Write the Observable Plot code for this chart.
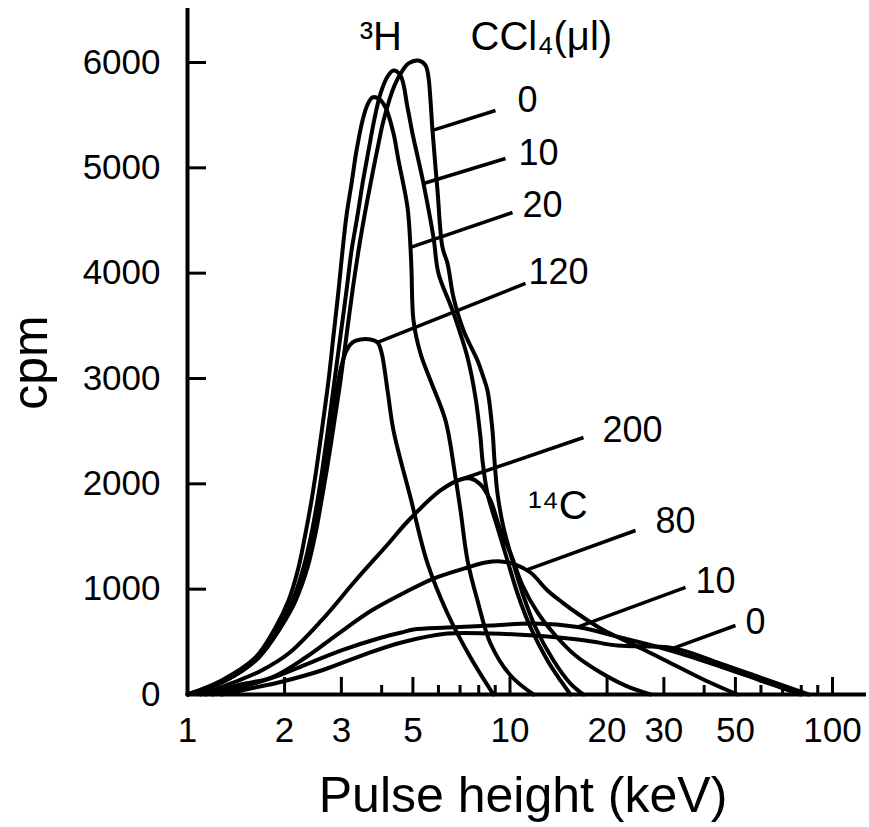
<!DOCTYPE html>
<html><head><meta charset="utf-8">
<script src="https://cdn.jsdelivr.net/npm/d3@7"></script>
<script src="https://cdn.jsdelivr.net/npm/@observablehq/plot@0.6"></script>
<style>html,body{margin:0;padding:0;background:#fff;}</style>
</head><body><div id="chart"></div>
<script>
// ---- Data: [Pulse height (keV), cpm] ----
const h3_0 = [[1,0],[1.3117,133],[1.6601,351],[1.9431,636],[2.1624,892],[2.3557,1206],[2.4942,1529],[2.6032,1842],[2.7173,2174],[2.8566,2601],[2.9819,2981],[3.112,3408],[3.2489,3836],[3.3911,4215],[3.5396,4548],[3.6946,4851],[3.884,5184],[4.0541,5450],[4.3831,5782],[4.6416,5924],[4.8437,5991],[5.203,6019],[5.47,5972],[5.588,5858],[5.669,5639],[5.75,5355],[5.959,4785],[6.175,4244],[6.401,4092],[6.681,3769],[7.176,3456],[7.929,3171],[8.276,3010],[8.515,2886],[8.824,2506],[8.952,2222],[9.146,1908],[9.546,1585],[10.18,1272],[10.94,959],[12.0,636],[13.64,323],[15.4,104],[16.9,0]];
const h3_10 = [[1,0],[1.3117,133],[1.6601,351],[1.9155,636],[2.1166,892],[2.2894,1206],[2.424,1529],[2.5299,1842],[2.6219,2146],[2.7367,2554],[2.8566,2981],[2.9819,3408],[3.112,3836],[3.2258,4215],[3.367,4548],[3.4894,4851],[3.6422,5165],[3.8016,5469],[3.9682,5706],[4.1717,5867],[4.352,5924],[4.5743,5877],[4.811,5573],[4.985,5326],[5.392,4851],[5.791,4339],[6.002,3997],[6.633,3646],[7.384,3199],[7.816,2820],[8.1,2440],[8.217,2222],[8.515,1908],[9.146,1585],[9.822,1272],[10.55,959],[11.58,636],[13.07,323],[14.34,133],[15.4,0]];
const h3_20 = [[1,0],[1.2747,133],[1.6248,351],[1.875,636],[2.057,892],[2.2092,1206],[2.3223,1529],[2.424,1842],[2.5119,2146],[2.6219,2554],[2.7367,2981],[2.8362,3408],[2.9396,3836],[3.0248,4215],[3.112,4548],[3.2258,4851],[3.343,5165],[3.4894,5450],[3.6163,5601],[3.7477,5668],[3.9119,5658],[4.1125,5573],[4.353,5326],[4.511,5070],[4.811,4624],[4.914,4244],[4.95,4025],[5.021,3551],[5.278,3237],[5.669,2981],[6.31,2601],[6.776,2060],[7.024,1747],[7.384,1272],[7.929,892],[8.699,484],[10.04,180],[11.83,0]];
const h3_120 = [[1,0],[1.3117,133],[1.6601,351],[1.9431,636],[2.1624,892],[2.3223,1206],[2.4588,1529],[2.5663,1842],[2.6597,2146],[2.7761,2554],[2.898,2886],[3.0033,3124],[3.112,3266],[3.2489,3342],[3.4399,3370],[3.6946,3370],[3.884,3342],[3.9966,3247],[4.1717,2886],[4.353,2506],[4.914,1870],[5.549,1244],[6.401,769],[7.544,351],[8.887,0]];
const c14_200 = [[1.097,0],[1.439,133],[1.696,228],[2.057,389],[2.603,703],[3.318,1082],[4.2,1434],[4.845,1652],[6.088,1937],[7.024,2041],[7.544,2051],[8.1,1994],[8.699,1842],[9.344,1557],[10.04,1339],[10.94,1035],[12.17,779],[13.84,560],[15.96,370],[19.09,209],[22.81,85],[27.28,0]];
const c14_80 = [[1.137,0],[1.46,95],[1.822,161],[2.322,351],[2.939,579],[3.721,797],[4.845,987],[5.791,1101],[7.384,1206],[8.4,1253],[9.344,1263],[10.4,1234],[11.58,1158],[13.07,987],[14.55,873],[16.19,769],[19.09,627],[22.01,532],[26.32,418],[32.6,275],[40.38,133],[50.75,0]];
const c14_10 = [[1.195,0],[1.46,66],[1.915,180],[2.209,256],[3.003,418],[3.996,541],[4.609,589],[5.021,617],[6.401,636],[8.699,655],[11.83,674],[16.19,640],[22.01,541],[31.46,418],[44.96,266],[59.8,133],[79.6,0]];
const c14_0 = [[1.275,0],[1.568,57],[1.915,114],[2.603,228],[3.464,370],[4.609,494],[6.401,579],[8.699,579],[11.83,560],[17.14,513],[21.54,465],[32.14,440],[44.96,294],[59.8,161],[84.3,0]];

const seriesNames = ["3H 0","3H 10","3H 20","3H 120","14C 200","14C 80","14C 10","14C 0"];
const seriesData = [h3_0, h3_10, h3_20, h3_120, c14_200, c14_80, c14_10, c14_0];

// leader lines and curve labels (CCl4 volume, µl)
const labelText = ["0","10","20","120","200","80","10","0"];
const leaderFrom = [[5.75,5355],[5.392,4851],[4.914,4244],[3.884,3342],[7.024,2041],[11.33,1185],[16.19,640],[32.14,440]];
const leaderTo = [[9.016,5544],[9.683,5089],[10.18,4576],[11.17,3902],[16.9,2440],[24.5,1557],[35.02,1016],[50.02,655]];
const labelAt = [[10.55,5639],[10.63,5136],[10.94,4643],[11.41,4006],[19.36,2506],[28.27,1642],[37.6,1073],[53.7,684]];

const headerText = ["³H", "CCl₄(μl)", "¹⁴C"];
const headerAt = [[3.42,6238],[7.544,6238],[11.4,1785]];

const yTicks = [0,1000,2000,3000,4000,5000,6000];
const xTickLabels = [1,2,3,5,10,20,30,50,100];
const xMajorTicks = [2,3,5,10,20,30,50,100];
const xMinorTicks = [4,6,7,8,9,40,60,70,80,90];

// ---- tables built from the arrays ----
const table = seriesNames.flatMap((s, i) => seriesData[i].map(([kev, cpm]) => ({series: s, kev, cpm})));
const leaders = labelText.map((t, i) => ({x1: leaderFrom[i][0], y1: leaderFrom[i][1], x2: leaderTo[i][0], y2: leaderTo[i][1]}));
const labels = labelText.map((t, i) => ({text: t, kev: labelAt[i][0], cpm: labelAt[i][1]}));
const headers = headerText.map((t, i) => ({text: t, kev: headerAt[i][0], cpm: headerAt[i][1]}));

const W = 869, H = 827, mL = 187, mR = 37, mT = 62, mB = 133;
const frameW = W - mL - mR, frameH = H - mT - mB;

const chart = Plot.plot({
  width: W, height: H,
  marginLeft: mL, marginRight: mR, marginTop: mT, marginBottom: mB,
  style: {fontFamily: "'Liberation Sans', Arial, sans-serif", background: "#fff", color: "#000", overflow: "visible"},
  x: {type: "log", domain: [1, 100], axis: null},
  y: {domain: [0, 6000], axis: null},
  marks: [
    // axes lines
    Plot.ruleX([1], {insetTop: -54, strokeWidth: 4, stroke: "#000"}),
    Plot.ruleY([0], {insetRight: -34, strokeWidth: 4, stroke: "#000"}),
    // inward ticks
    Plot.ruleY(yTicks.filter(d => d > 0), {insetRight: frameW - 19, strokeWidth: 3, stroke: "#000"}),
    Plot.ruleX(xMajorTicks, {insetTop: frameH - 17, strokeWidth: 3, stroke: "#000"}),
    Plot.ruleX(xMinorTicks, {insetTop: frameH - 9, strokeWidth: 3, stroke: "#000"}),
    // curves
    Plot.line(table, {x: "kev", y: "cpm", z: "series", curve: "catmull-rom", stroke: "#000", strokeWidth: 4}),
    // leader lines
    Plot.link(leaders, {x1: "x1", y1: "y1", x2: "x2", y2: "y2", stroke: "#000", strokeWidth: 3.5}),
    // labels
    Plot.text(labels, {x: "kev", y: "cpm", text: "text", textAnchor: "start", lineAnchor: "middle", fontSize: 36, fill: "#000"}),
    Plot.text(headers, {x: "kev", y: "cpm", text: "text", textAnchor: "start", lineAnchor: "middle", fontSize: 40, fill: "#000"}),
    // tick labels
    Plot.text(yTicks, {y: d => d, text: d => String(d), frameAnchor: "left", dx: -27, textAnchor: "end", lineAnchor: "middle", fontSize: 35, fill: "#000"}),
    Plot.text(xTickLabels, {x: d => d, text: d => String(d), frameAnchor: "bottom", dy: 36, textAnchor: "middle", lineAnchor: "middle", fontSize: 35, fill: "#000"}),
    // axis titles
    Plot.text(["Pulse height (keV)"], {frameAnchor: "bottom", dx: 13, dy: 101, textAnchor: "middle", lineAnchor: "middle", fontSize: 50, fill: "#000"}),
    Plot.text(["cpm"], {frameAnchor: "left", dx: -157, dy: -16, rotate: -90, textAnchor: "middle", lineAnchor: "middle", fontSize: 50, fill: "#000"})
  ]
});
document.getElementById("chart").appendChild(chart);
</script>
</body></html>
